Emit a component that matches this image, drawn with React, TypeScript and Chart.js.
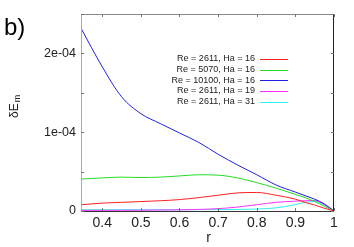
import React, { useEffect, useRef } from 'react';
import { Chart, registerables } from 'chart.js';
Chart.register(...registerables);

const FONT = '"Liberation Sans", Arial, sans-serif';

// radial coordinate r
const rValues = [0.345, 0.4, 0.45, 0.5, 0.55, 0.6, 0.65, 0.7, 0.75, 0.8, 0.85, 0.9, 0.925, 0.95, 0.975, 1.0];

// δE_m in units of 1e-04
const re2611ha16 = [0.08, 0.1, 0.11, 0.12, 0.13, 0.145, 0.17, 0.2, 0.23, 0.235, 0.2, 0.15, 0.11, 0.075, 0.035, 0.0];
const re5070ha16 = [0.405, 0.42, 0.43, 0.425, 0.43, 0.445, 0.46, 0.455, 0.42, 0.36, 0.29, 0.21, 0.17, 0.12, 0.06, 0.0];
const re10100ha16 = [2.32, 1.83, 1.45, 1.235, 1.11, 0.99, 0.87, 0.72, 0.585, 0.46, 0.33, 0.24, 0.195, 0.15, 0.09, 0.0];
const re2611ha19 = [0.008, 0.008, 0.009, 0.01, 0.012, 0.015, 0.02, 0.03, 0.05, 0.08, 0.11, 0.125, 0.13, 0.134, 0.08, 0.0];
const re2611ha31 = [0.016, 0.016, 0.016, 0.016, 0.016, 0.016, 0.017, 0.018, 0.02, 0.025, 0.04, 0.08, 0.11, 0.12, 0.08, 0.0];

const seriesValues = [re2611ha16, re5070ha16, re10100ha16, re2611ha19, re2611ha31];
const seriesLabels = [
  'Re = 2611, Ha = 16',
  'Re = 5070, Ha = 16',
  'Re = 10100, Ha = 16',
  'Re = 2611, Ha = 19',
  'Re = 2611, Ha = 31',
];
const seriesColors = ['#ff2020', '#22dd22', '#2020e0', '#ff30ff', '#30eeee'];

const xMin = 0.345;
const xMax = 1.0;
const xTickValues = [0.4, 0.5, 0.6, 0.7, 0.8, 0.9, 1.0];
const xTickLabels = ['0.4', '0.5', '0.6', '0.7', '0.8', '0.9', '1'];

const yMin = 0;
const yMax = 2.5;
const yTickValues = [0, 0.5, 1, 1.5, 2, 2.5];
const yLabelValues = [0, 1, 2];
const yTickLabels = ['0', '1e-04', '2e-04'];

const decor = {
  id: 'decor',
  afterDraw(chart: any) {
    const { ctx, chartArea } = chart;
    const { left, right, top, bottom } = chartArea;
    const xs = chart.scales.x;
    const ys = chart.scales.y;
    ctx.save();
    ctx.lineWidth = 1;
    const seg = (x1: number, y1: number, x2: number, y2: number, c: string) => {
      ctx.strokeStyle = c;
      ctx.beginPath();
      ctx.moveTo(x1, y1);
      ctx.lineTo(x2, y2);
      ctx.stroke();
    };
    // frame
    seg(left + 0.5, top, left + 0.5, bottom + 1, '#aaaaaa');
    seg(left, top + 0.5, right, top + 0.5, '#888888');
    seg(right - 0.5, top, right - 0.5, bottom + 1, '#222222');
    seg(left, bottom + 0.5, right, bottom + 0.5, '#333333');
    // ticks
    const tl = 3;
    for (const v of xTickValues) {
      const px = Math.round(xs.getPixelForValue(v)) + 0.5;
      seg(px, bottom, px, bottom - tl, '#777777');
      seg(px, top, px, top + tl, '#777777');
    }
    for (const v of yTickValues) {
      const py = Math.round(ys.getPixelForValue(v)) + 0.5;
      seg(left, py, left + tl, py, '#777777');
      seg(right, py, right - tl, py, '#777777');
    }
    // legend
    ctx.font = `9px ${FONT}`;
    ctx.textAlign = 'right';
    ctx.textBaseline = 'middle';
    seriesLabels.forEach((label, i) => {
      const y = 59 + i * 10.67;
      ctx.fillStyle = '#222222';
      ctx.fillText(label, 255, y);
      seg(260, Math.round(y) + 0.5, 288, Math.round(y) + 0.5, seriesColors[i]);
    });
    // panel label
    ctx.fillStyle = '#000000';
    ctx.textAlign = 'left';
    ctx.textBaseline = 'alphabetic';
    ctx.font = `24px ${FONT}`;
    ctx.fillText('b)', 4, 35);
    // x axis title
    ctx.font = `14px ${FONT}`;
    ctx.textAlign = 'center';
    ctx.fillStyle = '#222222';
    ctx.fillText('r', (left + right) / 2 + 1, 242);
    // y axis title δE_m
    ctx.translate(18, 118);
    ctx.rotate(-Math.PI / 2);
    ctx.textAlign = 'left';
    ctx.font = `12px ${FONT}`;
    ctx.fillText('δE', 0, 0);
    const w = ctx.measureText('δE').width;
    ctx.font = `9px ${FONT}`;
    ctx.fillText('m', w + 1, 2);
    ctx.restore();
  },
};

export default function App() {
  const ref = useRef<HTMLCanvasElement>(null);
  useEffect(() => {
    if (!ref.current) return;
    const chart = new Chart(ref.current, {
      type: 'line',
      data: {
        datasets: seriesLabels.map((label, i) => ({
          label,
          data: rValues.map((r, j) => ({ x: r, y: seriesValues[i][j] })),
          borderColor: seriesColors[i],
          backgroundColor: seriesColors[i],
          borderWidth: 1,
          pointRadius: 0,
          cubicInterpolationMode: 'monotone' as const,
          fill: false,
        })),
      },
      options: {
        responsive: false,
        animation: false,
        devicePixelRatio: 1,
        layout: { padding: { top: 14, right: 20, left: 0, bottom: 0 } },
        plugins: { legend: { display: false }, tooltip: { enabled: false } },
        scales: {
          x: {
            type: 'linear',
            min: xMin,
            max: xMax,
            grid: { display: false, drawTicks: false },
            border: { display: false },
            afterBuildTicks: (s: any) => {
              s.ticks = xTickValues.map((v) => ({ value: v }));
            },
            afterFit: (s: any) => {
              s.height = 36;
            },
            ticks: {
              autoSkip: false,
              maxRotation: 0,
              padding: 4,
              color: '#222222',
              font: { family: FONT, size: 14 },
              callback: (v: any) => {
                const i = xTickValues.findIndex((t) => Math.abs(t - v) < 1e-9);
                return i >= 0 ? xTickLabels[i] : '';
              },
            },
          },
          y: {
            type: 'linear',
            min: yMin,
            max: yMax,
            grid: { display: false, drawTicks: false },
            border: { display: false },
            afterBuildTicks: (s: any) => {
              s.ticks = yTickValues.map((v) => ({ value: v }));
            },
            afterFit: (s: any) => {
              s.width = 81;
            },
            ticks: {
              autoSkip: false,
              padding: 5,
              color: '#222222',
              font: { family: FONT, size: 12.5 },
              callback: (v: any) => {
                const i = yLabelValues.findIndex((t) => Math.abs(t - v) < 1e-9);
                return i >= 0 ? yTickLabels[i] : '';
              },
            },
          },
        },
      },
      plugins: [decor],
    });
    return () => chart.destroy();
  }, []);
  return (
    <div style={{ position: 'absolute', left: 0, top: 0, width: 354, height: 247, background: '#ffffff' }}>
      <canvas ref={ref} width={354} height={247} style={{ width: 354, height: 247 }} />
    </div>
  );
}
